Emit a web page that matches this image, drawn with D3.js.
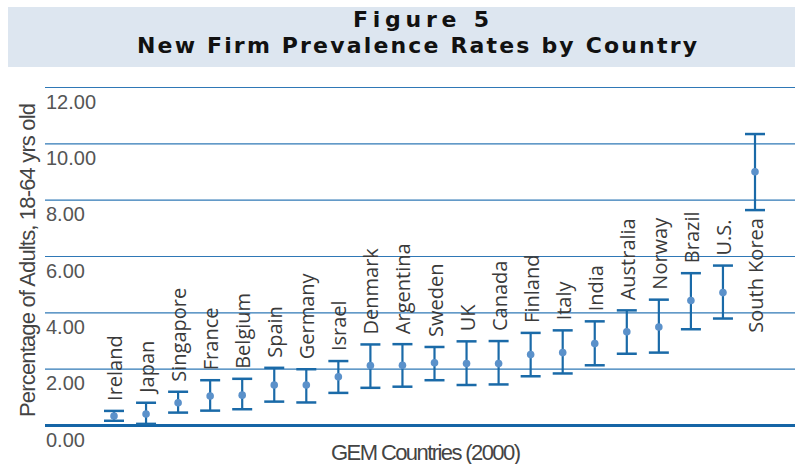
<!DOCTYPE html>
<html>
<head>
<meta charset="utf-8">
<script src="https://cdn.jsdelivr.net/npm/d3@7"></script>
<style>
  html, body { margin: 0; padding: 0; background: #ffffff; }
  svg { display: block; }
</style>
</head>
<body>
<svg id="chart" width="795" height="464"></svg>
<script>
const countries = ["Ireland","Japan","Singapore","France","Belgium","Spain","Germany","Israel","Denmark","Argentina","Sweden","UK","Canada","Finland","Italy","India","Australia","Norway","Brazil","U.S.","South Korea"];
const means = [0.32,0.39,0.79,1.03,1.06,1.42,1.42,1.71,2.11,2.12,2.21,2.18,2.18,2.50,2.57,2.89,3.31,3.48,4.42,4.70,8.99];
const lows  = [0.15,0.04,0.44,0.51,0.56,0.83,0.80,1.14,1.32,1.36,1.59,1.42,1.44,1.73,1.83,2.12,2.53,2.57,3.40,3.78,7.63];
const highs = [0.50,0.79,1.18,1.59,1.64,2.03,1.98,2.27,2.86,2.87,2.77,2.97,2.98,3.27,3.36,3.68,4.07,4.45,5.39,5.66,10.33];
const yTicks = [0,2,4,6,8,10,12];
const titleLines = ["Figure 5","New Firm Prevalence Rates by Country"];
const yTitle = "Percentage of Adults, 18-64 yrs old";
const xTitle = "GEM Countries (2000)";

const data = countries.map((c,i)=>({c, m: means[i], lo: lows[i], hi: highs[i]}));
const svg = d3.select("#chart");

// title box
svg.append("rect").attr("x",8).attr("y",7).attr("width",787).attr("height",60).attr("fill","#dde6f0");
const tFont = "'DejaVu Sans','Open Sans',sans-serif";
svg.append("text").attr("x",421).attr("y",27).attr("text-anchor","middle")
  .attr("font-family",tFont).attr("font-weight","bold").attr("font-size",22).attr("fill","#111")
  .attr("textLength",136).attr("lengthAdjust","spacing").text(titleLines[0]);
svg.append("text").attr("x",417).attr("y",53).attr("text-anchor","middle")
  .attr("font-family",tFont).attr("font-weight","bold").attr("font-size",22).attr("fill","#111")
  .attr("textLength",560).attr("lengthAdjust","spacing").text(titleLines[1]);

const x = d3.scalePoint().domain(countries).range([114,755]);
const y = d3.scaleLinear().domain([0,12]).range([425,87]);

const narrow = "'Liberation Sans Narrow','Arial Narrow',sans-serif";

// gridlines
const yAxis = d3.axisLeft(y).tickValues(yTicks).tickSize(-750).tickFormat(d3.format(".2f"));
const g = svg.append("g").attr("transform","translate(45,0)").call(yAxis);
g.select(".domain").remove();
g.selectAll(".tick line").attr("stroke", d => d===0 ? "#1565a6" : "#2f78b6")
  .attr("stroke-width", d => d===0 ? 3 : 1.1);
g.selectAll(".tick text").attr("x",1).attr("dy",null).attr("y",21)
  .attr("text-anchor","start").attr("font-family",narrow).attr("font-size",20).attr("fill","#555");

// axis titles
svg.append("text").attr("transform","translate(35,260) rotate(-90)").attr("text-anchor","middle")
  .attr("font-family",narrow).attr("font-size",22).attr("fill","#444")
  .attr("textLength",314).attr("lengthAdjust","spacing").text(yTitle);
svg.append("text").attr("x",426).attr("y",460).attr("text-anchor","middle")
  .attr("font-family",narrow).attr("font-size",22).attr("fill","#444")
  .attr("textLength",190).attr("lengthAdjust","spacing").text(xTitle);

// error bars
const eb = svg.append("g").selectAll("g").data(data).join("g");
const barColor = "#1a6aa8";
eb.append("line").attr("x1",d=>x(d.c)).attr("x2",d=>x(d.c)).attr("y1",d=>y(d.lo)).attr("y2",d=>y(d.hi))
  .attr("stroke",barColor).attr("stroke-width",2.2);
eb.append("line").attr("x1",d=>x(d.c)-10).attr("x2",d=>x(d.c)+10).attr("y1",d=>y(d.hi)).attr("y2",d=>y(d.hi))
  .attr("stroke",barColor).attr("stroke-width",2.5);
eb.append("line").attr("x1",d=>x(d.c)-10).attr("x2",d=>x(d.c)+10).attr("y1",d=>y(d.lo)).attr("y2",d=>y(d.lo))
  .attr("stroke",barColor).attr("stroke-width",2.5);
eb.append("circle").attr("cx",d=>x(d.c)).attr("cy",d=>y(d.m)).attr("r",3.8).attr("fill","#5b91ca");
eb.append("text")
  .attr("font-family","'Open Sans',sans-serif").attr("font-size",20).attr("fill","#3a3a3a")
  .text(d=>d.c)
  .each(function(d){
    const len = this.getComputedTextLength();
    const t = d3.select(this);
    if (y(d.hi) - 10 - len < 90) {
      // not enough room above: place under the lower cap
      t.attr("text-anchor","end")
       .attr("transform",`translate(${x(d.c)+8},${y(d.lo)+8}) rotate(-90)`);
    } else {
      t.attr("text-anchor","start")
       .attr("transform",`translate(${x(d.c)+8},${y(d.hi)-10}) rotate(-90)`);
    }
  });
</script>
</body>
</html>
